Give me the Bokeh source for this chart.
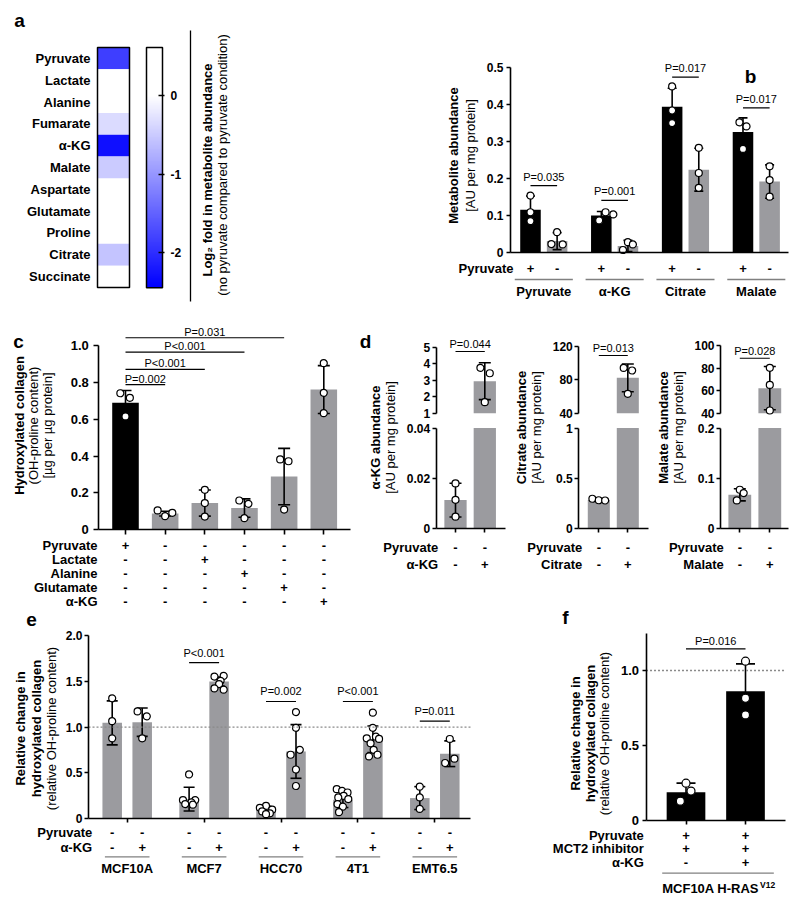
import math
import numpy as np
from bokeh.plotting import figure
from bokeh.models import Range1d, LinearAxis, FixedTicker, LinearColorMapper, ColumnDataSource
from bokeh.layouts import row, column
from bokeh.core.properties import value
from bokeh.embed import file_html
from bokeh.resources import INLINE

FONT = "Liberation Sans"
BAR_BLACK = "#000000"
BAR_GREY = "#9b9b9f"
RULE_GREY = "#808080"
HALF_PI = math.pi / 2

# ------------------------------------------------------------------ data
# panel a
a_metabolites = ["Pyruvate", "Lactate", "Alanine", "Fumarate", "α-KG", "Malate",
                 "Aspartate", "Glutamate", "Proline", "Citrate", "Succinate"]
a_log2fold = [-1.85, 0.0, 0.0, -0.35, -2.3, -0.5, 0.0, 0.0, 0.0, -0.57, 0.0]
a_cbar_ticks = [0, -1, -2]
a_cbar_labels = ["0", "-1", "-2"]
a_cbar_low = -2.45
a_cbar_high = 0.61

# panel b
b_groups = ["Pyruvate", "α-KG", "Citrate", "Malate"]
b_signs = ["+", "-"]
b_plus_mean = [0.115, 0.099, 0.393, 0.325]
b_plus_sd = [0.037, 0.011, 0.050, 0.038]
b_minus_mean = [0.030, 0.017, 0.223, 0.191]
b_minus_sd = [0.023, 0.015, 0.058, 0.045]
b_plus_points = [[0.153, 0.108, 0.084], [0.108, 0.102, 0.086],
                 [0.448, 0.383, 0.349], [0.351, 0.340, 0.279]]
b_plus_jitter = [[0, 0, 0], [0.06, 0.17, -0.03], [0, 0, 0], [-0.05, 0.05, 0]]
b_minus_points = [[0.054, 0.022, 0.021], [0.006, 0.027, 0.021],
                  [0.282, 0.214, 0.174], [0.232, 0.195, 0.150]]
b_minus_jitter = [[0, -0.08, 0.08], [-0.07, 0, 0.07], [0, 0, 0], [0, 0, 0]]
b_pvalues = ["P=0.035", "P=0.001", "P=0.017", "P=0.017"]
b_pvalue_y = [0.18, 0.14, 0.473, 0.39]
b_yticks = [0, 0.1, 0.2, 0.3, 0.4, 0.5]
b_ylabels = ["0", "0.1", "0.2", "0.3", "0.4", "0.5"]

# panel c
c_rows = ["Pyruvate", "Lactate", "Alanine", "Glutamate", "α-KG"]
c_signs = [["+", "-", "-", "-", "-", "-"],
           ["-", "-", "+", "-", "-", "-"],
           ["-", "-", "-", "+", "-", "-"],
           ["-", "-", "-", "-", "+", "-"],
           ["-", "-", "-", "-", "-", "+"]]
c_mean = [0.689, 0.088, 0.145, 0.118, 0.289, 0.761]
c_sd = [0.067, 0.013, 0.071, 0.050, 0.153, 0.130]
c_points = [[0.741, 0.716, 0.615], [0.105, 0.074, 0.092], [0.217, 0.145, 0.072],
            [0.159, 0.141, 0.063], [0.382, 0.372, 0.110], [0.904, 0.743, 0.633]]
c_jitter = [[-0.13, 0.11, 0], [-0.19, 0, 0.18], [0, 0, 0],
            [-0.13, 0.10, 0], [-0.10, 0.11, 0], [0, 0, 0]]
c_pvalues = ["P=0.002", "P<0.001", "P<0.001", "P=0.031"]
c_pvalue_to = [1, 2, 3, 4]
c_pvalue_y = [0.788, 0.870, 0.964, 1.042]
c_yticks = [0, 0.2, 0.4, 0.6, 0.8, 1.0]
c_ylabels = ["0", "0.2", "0.4", "0.6", "0.8", "1.0"]

# panel d (three broken-axis plots)
d1_rows = ["Pyruvate", "α-KG"]
d1_signs = [["-", "-"], ["-", "+"]]
d1_mean = [0.0114, 2.94]
d1_sd = [0.0067, 1.12]
d1_points = [[0.018, 0.0115, 0.0048], [3.75, 3.42, 1.67]]
d1_jitter = [[0, 0, 0], [-0.15, 0.17, 0]]
d1_low_ticks, d1_low_labels = [0, 0.02, 0.04], ["0", "0.02", "0.04"]
d1_up_ticks, d1_up_labels = [1, 2, 3, 4, 5], ["1", "2", "3", "4", "5"]
d1_pvalue, d1_pvalue_y = "P=0.044", 4.74
d1_title = "α-KG abundance"

d2_rows = ["Pyruvate", "Citrate"]
d2_signs = [["-", "-"], ["-", "+"]]
d2_mean = [0.285, 82.2]
d2_sd = [0.010, 16.5]
d2_points = [[0.298, 0.283, 0.281], [94.1, 91.0, 63.1]]
d2_jitter = [[-0.22, 0, 0.22], [-0.14, 0.15, 0]]
d2_low_ticks, d2_low_labels = [0, 0.5, 1], ["0", "0.5", "1"]
d2_up_ticks, d2_up_labels = [40, 80, 120], ["40", "80", "120"]
d2_pvalue, d2_pvalue_y = "P=0.013", 108.9
d2_title = "Citrate abundance"

d3_rows = ["Pyruvate", "Malate"]
d3_signs = [["-", "-"], ["-", "+"]]
d3_mean = [0.0675, 62.2]
d3_sd = [0.012, 19.2]
d3_points = [[0.0563, 0.0775, 0.0709], [80.2, 65.1, 42.4]]
d3_jitter = [[-0.10, 0, 0.13], [0, 0, 0]]
d3_low_ticks, d3_low_labels = [0, 0.1, 0.2], ["0", "0.1", "0.2"]
d3_up_ticks, d3_up_labels = [40, 60, 80, 100], ["40", "60", "80", "100"]
d3_pvalue, d3_pvalue_y = "P=0.028", 88.7
d3_title = "Malate abundance"

# panel e
e_lines = ["MCF10A", "MCF7", "HCC70", "4T1", "EMT6.5"]
e_rows = ["Pyruvate", "α-KG"]
e_signs = [["-", "-"], ["-", "+"]]
e_minus_mean = [1.047, 0.215, 0.097, 0.208, 0.226]
e_minus_sd = [0.240, 0.130, 0.040, 0.085, 0.125]
e_plus_mean = [1.054, 1.498, 0.735, 0.867, 0.710]
e_plus_sd = [0.155, 0.050, 0.293, 0.145, 0.140]
e_minus_points = [[1.315, 1.065, 0.878],
                  [0.484, 0.204, 0.204, 0.179, 0.161, 0.154],
                  [0.14, 0.12, 0.10, 0.08, 0.06, 0.05],
                  [0.323, 0.305, 0.287, 0.251, 0.233, 0.215, 0.161, 0.133, 0.072],
                  [0.351, 0.233, 0.108]]
e_minus_jitter = [[0, 0, 0],
                  [0, -0.08, 0.08, 0.03, -0.05, 0.05],
                  [0, -0.08, 0.08, -0.05, 0.05, 0],
                  [-0.08, -0.01, 0.06, 0.01, -0.06, 0.07, -0.07, 0.0, -0.05],
                  [0, 0, 0]]
e_plus_points = [[1.172, 1.118, 0.878],
                 [1.552, 1.559, 1.505, 1.47, 1.423, 1.409],
                 [1.165, 0.993, 0.753, 0.699, 0.538, 0.358],
                 [1.158, 0.993, 0.896, 0.878, 0.871, 0.824, 0.753, 0.699, 0.681],
                 [0.871, 0.656, 0.609]]
e_plus_jitter = [[-0.06, 0.06, 0],
                 [-0.06, 0.06, 0.02, 0, -0.06, 0.06],
                 [0, 0, 0.05, -0.07, 0, 0],
                 [0, 0, 0.04, -0.08, 0.08, -0.03, 0.01, 0.06, -0.05],
                 [0, 0.06, -0.06]]
e_pvalue_groups = [1, 2, 3, 4]
e_pvalues = ["P<0.001", "P=0.002", "P<0.001", "P=0.011"]
e_pvalue_y = [1.703, 1.28, 1.28, 1.065]
e_yticks = [0, 0.5, 1.0, 1.5, 2.0]
e_ylabels = ["0", "0.5", "1.0", "1.5", "2.0"]
e_reference = 1.0

# panel f
f_rows = ["Pyruvate", "MCT2 inhibitor", "α-KG"]
f_signs = [["+", "+"], ["+", "+"], ["-", "+"]]
f_mean = [0.189, 0.862]
f_sd = [0.060, 0.182]
f_points = [[0.249, 0.196, 0.129], [1.062, 0.815, 0.704]]
f_jitter = [[0, 0.084, -0.095], [0, 0, 0]]
f_pvalue, f_pvalue_y = "P=0.016", 1.144
f_yticks = [0, 0.5, 1.0]
f_ylabels = ["0", "0.5", "1.0"]
f_reference = 1.0
f_cell_line = "MCF10A H-RAS"
f_cell_sup = "V12"


# ------------------------------------------------------------------ helpers
def lin_x(left, w, d0, p0, d1, p1):
    s = (p1 - p0) / (d1 - d0)
    st = d0 - (p0 - left) / s
    return Range1d(st, st + w / s)


def lin_y(top, h, v0, p0, v1, p1):
    s = (p0 - p1) / (v1 - v0)
    st = v0 - (top + h - p0) / s
    return Range1d(st, st + h / s)


def make_fig(box, xmap, ymap, extra_x=None, extra_y=None):
    left, top, w, h = box
    p = figure(width=w, height=h, x_range=lin_x(left, w, *xmap), y_range=lin_y(top, h, *ymap),
               x_axis_type=None, y_axis_type=None, toolbar_location=None,
               output_backend="svg", min_border=0, outline_line_color=None,
               background_fill_color="white", border_fill_color="white")
    ex = {"px": Range1d(left, left + w)}
    ey = {"px": Range1d(top + h, top)}
    for k, m in (extra_x or {}).items():
        ex[k] = lin_x(left, w, *m)
    for k, m in (extra_y or {}).items():
        ey[k] = lin_y(top, h, *m)
    p.extra_x_ranges = ex
    p.extra_y_ranges = ey
    return p


def add_text(p, xs, ys, texts, size="13px", bold=True, align="center", angle=0.0,
             xr="px", yr="px", yoff=0):
    p.text(x=list(xs), y=list(ys), text=list(texts), text_font=value(FONT),
           text_font_size=size, text_font_style="bold" if bold else "normal",
           text_align=align, text_baseline="middle", angle=angle, text_color="black",
           x_range_name=xr, y_range_name=yr, y_offset=yoff)


def add_axis(p, side, loc, bounds, ticks, labels=None, xr="default", yr="default",
             size="12px", tick_out=4, tick_in=0, standoff=3, show_line=True):
    if labels is None:
        labels = [""] * len(ticks)
    ax = LinearAxis(x_range_name=xr, y_range_name=yr, fixed_location=loc, bounds=bounds,
                    ticker=FixedTicker(ticks=list(ticks)),
                    major_label_overrides={float(t): l for t, l in zip(ticks, labels)})
    ax.axis_line_color = "black" if show_line else None
    ax.axis_line_width = 1.6
    ax.major_tick_line_color = "black"
    ax.major_tick_line_width = 1.6
    ax.major_tick_out = tick_out
    ax.major_tick_in = tick_in
    ax.minor_tick_line_color = None
    ax.major_label_text_font = FONT
    ax.major_label_text_font_size = size
    ax.major_label_text_font_style = "bold"
    ax.major_label_text_color = "black"
    ax.major_label_standoff = standoff
    p.add_layout(ax, side)
    return ax


def errbars(p, xs, means, sds, cap, yr="default"):
    lo = [m - s for m, s in zip(means, sds)]
    hi = [m + s for m, s in zip(means, sds)]
    p.segment(x0=list(xs), y0=lo, x1=list(xs), y1=hi, line_color="black",
              line_width=1.6, y_range_name=yr)
    p.scatter(x=list(xs) + list(xs), y=lo + hi, marker="dash", size=cap,
              line_color="black", line_width=1.6, y_range_name=yr)


def dots(p, xc, vals, jit, yr="default", size=7):
    p.scatter(x=[xc + j for j in jit], y=list(vals), marker="circle", size=size,
              fill_color="white", line_color="black", line_width=1.2, y_range_name=yr)


def bar_color(pyruvate_sign):
    return BAR_BLACK if pyruvate_sign == "+" else BAR_GREY


# ------------------------------------------------------------------ panel a
fa = make_fig((0, 0, 390, 304), (0, 97, 1, 129), (0, 287, 11, 47),
              extra_x={"cbx": (0, 146, 1, 162)}, extra_y={"cby": (0, 95, -1, 173.5)})
palette = ["#%02x%02xff" % (c, c) for c in np.linspace(0, 255, 256).astype(int)]
mapper = LinearColorMapper(palette=palette, low=a_cbar_low, high=0.0, high_color="#ffffff")
n_a = len(a_metabolites)
a_y = [n_a - 0.5 - i for i in range(n_a)]
src_a = ColumnDataSource(dict(y=a_y, v=a_log2fold, name=a_metabolites))
fa.rect(x=0.5, y="y", width=1, height=1, source=src_a,
        fill_color={"field": "v", "transform": mapper}, line_color=None)
fa.quad(left=[0], right=[1], bottom=[0], top=[n_a], fill_color=None,
        line_color="black", line_width=1.5)
grad = np.linspace(a_cbar_low, a_cbar_high, 300).reshape(-1, 1)
fa.image(image=[grad], x=0, y=a_cbar_low, dw=1, dh=a_cbar_high - a_cbar_low,
         color_mapper=mapper, x_range_name="cbx", y_range_name="cby")
fa.quad(left=[0], right=[1], bottom=[a_cbar_low], top=[a_cbar_high], fill_color=None,
        line_color="black", line_width=1.5, x_range_name="cbx", y_range_name="cby")
add_axis(fa, "right", 1, (a_cbar_low, a_cbar_high), a_cbar_ticks, a_cbar_labels,
         xr="cbx", yr="cby", tick_out=2, tick_in=4, standoff=6, show_line=False)
add_text(fa, [90] * n_a, a_y, a_metabolites, align="right", yr="default")
fa.segment(x0=[190], y0=[30], x1=[190], y1=[301], line_color="black", line_width=1.3,
           x_range_name="px", y_range_name="px")
add_text(fa, [207], [169.5], ["Log₂ fold in metabolite abundance"], angle=HALF_PI)
add_text(fa, [222], [164.5], ["(no pyruvate compared to pyruvate condition)"],
         bold=False, angle=HALF_PI)
add_text(fa, [19], [20], ["a"], size="19px")

# ------------------------------------------------------------------ panel b
fb = make_fig((390, 0, 409, 304), (0, 543.3, 3, 755.8), (0, 251.7, 0.5, 66.7))
B_OFF, B_W = 0.188, 0.29
b_xp = [i - B_OFF for i in range(len(b_groups))]
b_xm = [i + B_OFF for i in range(len(b_groups))]
fb.vbar(x=b_xp, top=b_plus_mean, width=B_W, fill_color=bar_color(b_signs[0]), line_color=None)
fb.vbar(x=b_xm, top=b_minus_mean, width=B_W, fill_color=bar_color(b_signs[1]), line_color=None)
errbars(fb, b_xp, b_plus_mean, b_plus_sd, 9)
errbars(fb, b_xm, b_minus_mean, b_minus_sd, 9)
for i in range(len(b_groups)):
    dots(fb, b_xp[i], b_plus_points[i], b_plus_jitter[i])
    dots(fb, b_xm[i], b_minus_points[i], b_minus_jitter[i])
add_axis(fb, "left", -0.47, (0, 0.5), b_yticks, b_ylabels)
add_axis(fb, "below", 0, (-0.47, 3.455), [])
fb.segment(x0=b_xp, y0=b_pvalue_y, x1=b_xm, y1=b_pvalue_y, line_color="black", line_width=1.2)
add_text(fb, range(len(b_groups)), b_pvalue_y, b_pvalues, size="11px", bold=False,
         xr="default", yr="default", yoff=-9)
add_text(fb, [513], [268], ["Pyruvate"], align="right")
add_text(fb, b_xp + b_xm, [268] * 8, [b_signs[0]] * 4 + [b_signs[1]] * 4, xr="default")
fb.segment(x0=[i - 0.41 for i in range(4)], y0=[279] * 4, x1=[i + 0.41 for i in range(4)],
           y1=[279] * 4, line_color=RULE_GREY, line_width=1.3, y_range_name="px")
add_text(fb, range(len(b_groups)), [291] * 4, b_groups, xr="default")
add_text(fb, [453], [155], ["Metabolite abundance"], angle=HALF_PI)
add_text(fb, [470], [155], ["[AU per mg protein]"], bold=False, angle=HALF_PI)
add_text(fb, [750], [76], ["b"], size="19px")

# ------------------------------------------------------------------ panel c
fc = make_fig((0, 304, 358, 304), (0, 125, 5, 323.3), (0, 529.3, 1, 345))
c_x = list(range(len(c_mean)))
fc.vbar(x=c_x, top=c_mean, width=0.67, line_color=None,
        fill_color=[bar_color(s) for s in c_signs[0]])
errbars(fc, c_x, c_mean, c_sd, 12)
for i in c_x:
    dots(fc, i, c_points[i], c_jitter[i])
add_axis(fc, "left", -0.673, (0, 1), c_yticks, c_ylabels, size="13px", tick_out=5, standoff=5)
add_axis(fc, "below", 0, (-0.673, 5.673), c_x, tick_out=5)
fc.segment(x0=[0] * 4, y0=c_pvalue_y, x1=c_pvalue_to, y1=c_pvalue_y,
           line_color="black", line_width=1.2)
add_text(fc, [t / 2 for t in c_pvalue_to], c_pvalue_y, c_pvalues, size="11px", bold=False,
         xr="default", yr="default", yoff=-6)
c_row_y = [545.4 + 14.0 * r for r in range(len(c_rows))]
add_text(fc, [97] * len(c_rows), c_row_y, c_rows, align="right")
for r, signs in enumerate(c_signs):
    add_text(fc, c_x, [c_row_y[r]] * len(c_x), signs, xr="default")
add_text(fc, [18.5], [425], ["Hydroxylated collagen"], angle=HALF_PI)
add_text(fc, [32.5], [425], ["(OH-proline content)"], bold=False, angle=HALF_PI)
add_text(fc, [46.5], [425], ["[µg per µg protein]"], bold=False, angle=HALF_PI)
add_text(fc, [18], [341], ["c"], size="19px")


# ------------------------------------------------------------------ panel d
def d_panel(box, xmap, up_top, low_ticks, low_labels, up_ticks, up_labels,
            yaxis_x, xaxis_end, means, sds, pts, jit, pval, pval_y, rows, signs,
            label_x, title, title_x, title_y, letter=None):
    low_max, up_min, up_max = low_ticks[-1], up_ticks[0], up_ticks[-1]
    p = make_fig(box, xmap, (0, 528.3, low_max, 427.5),
                 extra_y={"up": (up_min, 412.7, up_max, up_top)})
    xs = [0, 1]
    fill = [bar_color(s) for s in signs[0]]
    p.vbar(x=xs, top=[min(m, low_max) for m in means], width=0.76,
           fill_color=fill, line_color=None)
    for i in xs:
        if means[i] > up_min:
            p.vbar(x=[i], bottom=[up_min], top=[means[i]], width=0.76, fill_color=fill[i],
                   line_color=None, y_range_name="up")
            errbars(p, [i], [means[i]], [sds[i]], 12, yr="up")
        else:
            errbars(p, [i], [means[i]], [sds[i]], 12)
        lo_v = [v for v in pts[i] if v <= low_max]
        lo_j = [j for v, j in zip(pts[i], jit[i]) if v <= low_max]
        up_v = [v for v in pts[i] if v > low_max]
        up_j = [j for v, j in zip(pts[i], jit[i]) if v > low_max]
        if lo_v:
            dots(p, i, lo_v, lo_j)
        if up_v:
            dots(p, i, up_v, up_j, yr="up")
    add_axis(p, "left", yaxis_x, (0, low_max), low_ticks, low_labels, standoff=2)
    add_axis(p, "left", yaxis_x, (up_min, up_max), up_ticks, up_labels, yr="up", standoff=2)
    add_axis(p, "below", 0, (yaxis_x, xaxis_end), xs, tick_out=4)
    p.segment(x0=[0], y0=[pval_y], x1=[1], y1=[pval_y], line_color="black",
              line_width=1.2, y_range_name="up")
    add_text(p, [0.5], [pval_y], [pval], size="11px", bold=False, xr="default",
             yr="up", yoff=-7)
    row_y = [546.7, 564.3]
    add_text(p, [label_x] * 2, row_y, rows, align="right")
    for r, s in enumerate(signs):
        add_text(p, xs, [row_y[r]] * 2, s, xr="default")
    add_text(p, [title_x], [title_y], [title], angle=HALF_PI)
    add_text(p, [title_x + 14.5], [title_y], ["[AU per mg protein]"], bold=False, angle=HALF_PI)
    if letter:
        add_text(p, [365], [341], [letter], size="19px")
    return p


fd1 = d_panel((358, 304, 150, 304), (0, 455, 1, 484.3), 346.7,
              d1_low_ticks, d1_low_labels, d1_up_ticks, d1_up_labels,
              -0.659, 1.707, d1_mean, d1_sd, d1_points, d1_jitter, d1_pvalue, d1_pvalue_y,
              d1_rows, d1_signs, 437.7, d1_title, 375, 437, letter="d")
fd2 = d_panel((508, 304, 142, 304), (0, 598.3, 1, 627.3), 345.7,
              d2_low_ticks, d2_low_labels, d2_up_ticks, d2_up_labels,
              -0.69, 1.703, d2_mean, d2_sd, d2_points, d2_jitter, d2_pvalue, d2_pvalue_y,
              d2_rows, d2_signs, 581.7, d2_title, 521, 427)
fd3 = d_panel((650, 304, 149, 304), (0, 739.3, 1, 769.3), 345,
              d3_low_ticks, d3_low_labels, d3_up_ticks, d3_up_labels,
              -0.643, 1.633, d3_mean, d3_sd, d3_points, d3_jitter, d3_pvalue, d3_pvalue_y,
              d3_rows, d3_signs, 723.3, d3_title, 663.3, 427)

# ------------------------------------------------------------------ panel e
fe = make_fig((0, 608, 552, 292), (0, 126.7, 4, 434.3), (0, 818.3, 2, 635))
E_OFF, E_W = 0.195, 0.254
ng = len(e_lines)
e_xm = [i - E_OFF for i in range(ng)]
e_xp = [i + E_OFF for i in range(ng)]
fe.vbar(x=e_xm, top=e_minus_mean, width=E_W, fill_color=bar_color(e_signs[0][0]), line_color=None)
fe.vbar(x=e_xp, top=e_plus_mean, width=E_W, fill_color=bar_color(e_signs[0][1]), line_color=None)
errbars(fe, e_xm, e_minus_mean, e_minus_sd, 11)
errbars(fe, e_xp, e_plus_mean, e_plus_sd, 11)
for i in range(ng):
    dots(fe, e_xm[i], e_minus_points[i], e_minus_jitter[i])
    dots(fe, e_xp[i], e_plus_points[i], e_plus_jitter[i])
fe.segment(x0=[-0.503], y0=[e_reference], x1=[4.464], y1=[e_reference],
           line_color="#8a8a8a", line_width=1.3, line_dash="2 2")
add_axis(fe, "left", -0.503, (0, 2), e_yticks, e_ylabels, standoff=2)
add_axis(fe, "below", 0, (-0.503, 4.464), list(range(ng)), tick_out=4)
fe.segment(x0=[e_xm[g] for g in e_pvalue_groups], y0=e_pvalue_y,
           x1=[e_xp[g] for g in e_pvalue_groups], y1=e_pvalue_y, line_color="black", line_width=1.2)
add_text(fe, e_pvalue_groups, e_pvalue_y, e_pvalues, size="11px", bold=False,
         xr="default", yr="default", yoff=-10)
e_row_y = [831.7, 846.7]
add_text(fe, [91.7] * 2, e_row_y, e_rows, align="right")
for r, s in enumerate(e_signs):
    add_text(fe, e_xm + e_xp, [e_row_y[r]] * (2 * ng), [s[0]] * ng + [s[1]] * ng, xr="default")
fe.segment(x0=[i - 0.29 for i in range(ng)], y0=[856.3] * ng, x1=[i + 0.29 for i in range(ng)],
           y1=[856.3] * ng, line_color=RULE_GREY, line_width=1.3, y_range_name="px")
add_text(fe, range(ng), [868.3] * ng, e_lines, xr="default")
add_text(fe, [20], [728], ["Relative change in"], angle=HALF_PI)
add_text(fe, [36], [728], ["hydroxylated collagen"], angle=HALF_PI)
add_text(fe, [50.5], [728], ["(relative OH-proline content)"], bold=False, angle=HALF_PI)
add_text(fe, [31], [619], ["e"], size="19px")

# ------------------------------------------------------------------ panel f
ff = make_fig((552, 608, 247, 292), (0, 685.5, 1, 745), (0, 820, 1, 670))
f_x = [0, 1]
ff.vbar(x=f_x, top=f_mean, width=0.65, line_color=None,
        fill_color=[bar_color(s) for s in f_signs[0]])
errbars(ff, f_x, f_mean, f_sd, 19)
for i in f_x:
    dots(ff, i, f_points[i], f_jitter[i], size=8)
ff.segment(x0=[-0.672], y0=[f_reference], x1=[1.672], y1=[f_reference],
           line_color="#8a8a8a", line_width=1.3, line_dash="2 2")
add_axis(ff, "left", -0.672, (0, 1.25), f_yticks, f_ylabels, size="13px", standoff=3)
add_axis(ff, "below", 0, (-0.672, 1.672), f_x, tick_out=4)
ff.segment(x0=[0], y0=[f_pvalue_y], x1=[1], y1=[f_pvalue_y], line_color="black", line_width=1.2)
add_text(ff, [0.5], [f_pvalue_y], [f_pvalue], size="11px", bold=False,
         xr="default", yr="default", yoff=-8)
f_row_y = [835, 848.3, 861.7]
add_text(ff, [643.3] * 3, f_row_y, f_rows, align="right")
for r, s in enumerate(f_signs):
    add_text(ff, f_x, [f_row_y[r]] * 2, s, xr="default")
ff.segment(x0=[-0.4], y0=[872.7], x1=[1.476], y1=[872.7], line_color=RULE_GREY,
           line_width=1.3, y_range_name="px")
add_text(ff, [758.5], [887.5], [f_cell_line], align="right")
add_text(ff, [759.5], [884], [f_cell_sup], size="8.5px", align="left")
add_text(ff, [575], [733], ["Relative change in"], angle=HALF_PI)
add_text(ff, [590], [733], ["hydroxylated collagen"], angle=HALF_PI)
add_text(ff, [604], [733], ["(relative OH-proline content)"], bold=False, angle=HALF_PI)
add_text(ff, [565], [617], ["f"], size="19px")

layout = column(row(fa, fb), row(fc, fd1, fd2, fd3), row(fe, ff))
open("out.html", "w").write(file_html(layout, INLINE))
